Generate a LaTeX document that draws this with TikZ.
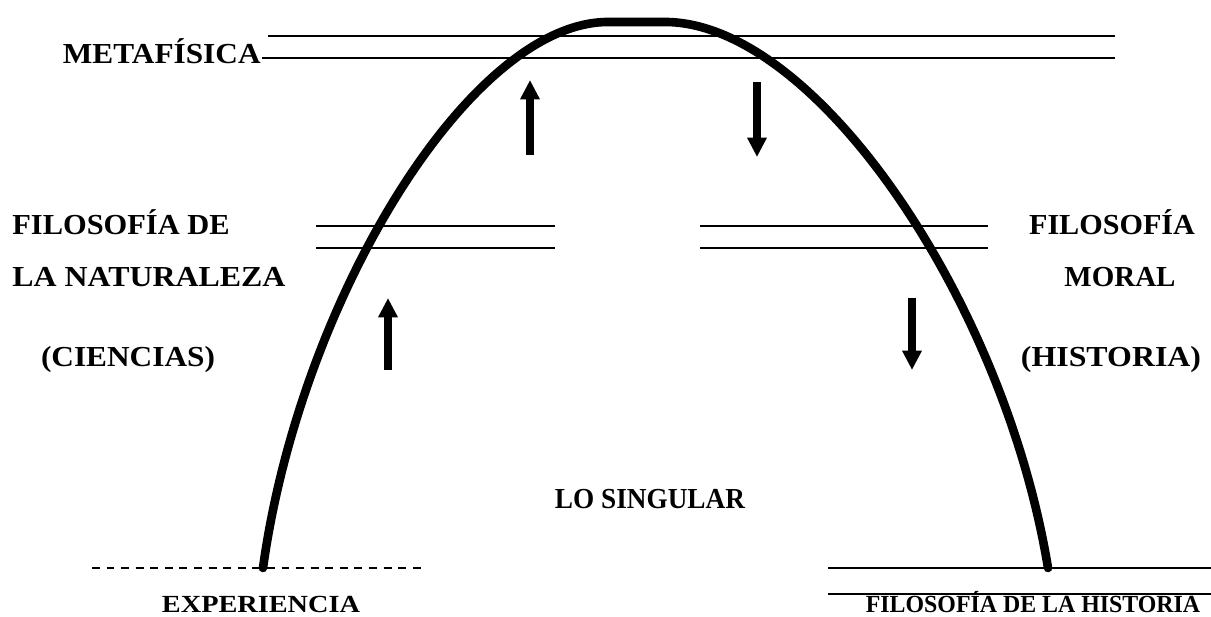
\documentclass[tikz,border=0pt]{standalone}
\usepackage{fontspec}
\setmainfont{Liberation Serif}
\usepackage{graphicx}
\usetikzlibrary{arrows.meta}

\newcommand{\stretchtxt}[2]{\scalebox{#1}[1]{#2}}

\tikzset{
  label/.style={font=\fontsize{16.5}{20}\selectfont\bfseries, inner sep=0pt},
  footlabel/.style={label, font=\fontsize{14}{16}\selectfont\bfseries, anchor=base},
  level/.style={line width=1.1pt},
  flow/.style={line width=4.6pt, -{Triangle[width=10.5pt,length=11pt]}},
}

\begin{document}
\begin{tikzpicture}[x=0.02cm, y=-0.02cm]
        \useasboundingbox (0,0) rectangle (1211,617);
        % levels
        \node[label, anchor=east] (meta) at (261,51) {\stretchtxt{1.08}{METAF\'ISICA}};
        \coordinate (metaend) at (1115,58);
        \draw[level] (268,36) -- (1115,36);
        \draw[level] (meta.east) ++(1,7) -- (metaend);
        \draw[level] (316,226) -- (555,226);
        \draw[level] (316,248) -- (555,248);
        \draw[level] (700,226) -- (988,226);
        \draw[level] (700,248) -- (988,248);
        \draw[line width=1.2pt, dash pattern=on 4.5pt off 3.8pt] (92,568) -- (422,568);
        \draw[level] (828,568) -- (1211,568);
        \draw[level] (828,594) -- (1211,594);
        % the arch
        \draw[line width=4.9pt, line cap=round] (263,568) .. controls (300,300) and (470,22) .. (608,22)
          -- (665,22) .. controls (815,22) and (1004,300) .. (1048,568);
        % arrows
        \coordinate (ua) at (530,155); \coordinate (ub) at (530,80);
        \coordinate (la) at (388,370); \coordinate (lb) at (388,298);
        \coordinate (da) at (757,82);  \coordinate (db) at (757,157);
        \coordinate (ra) at (912,298); \coordinate (rb) at (912,370);
        \draw[flow] (ua) -- (ub);
        \draw[flow] (la) -- (lb);
        \draw[flow] (da) -- (db);
        \draw[flow] (ra) -- (rb);
        % texts
        \node[label, anchor=west] (natA) at (12,222) {\stretchtxt{1.05}{FILOSOF\'IA DE}};
        \node[label, anchor=west] (natB) at (12,277) {\stretchtxt{1.1}{LA NATURALEZA}};
        \node[label] (cien) at (128,360) {\stretchtxt{1.08}{(CIENCIAS)}};
        \node[label] (morA) at (1112,222) {\stretchtxt{1.04}{FILOSOF\'IA}};
        \node[label] (morB) at (1120,277) {MORAL};
        \node[label] (hist) at (1111,360) {\stretchtxt{1.1}{(HISTORIA)}};
        \node[label] (sing) at (650,499) {\stretchtxt{0.94}{LO SINGULAR}};
        \node[footlabel] (expe) at (261,613) {\stretchtxt{1.15}{EXPERIENCIA}};
        \node[footlabel] (fhis) at (1033,613) {\stretchtxt{0.97}{FILOSOF\'IA DE LA HISTORIA}};
      \end{tikzpicture}
\end{document}
